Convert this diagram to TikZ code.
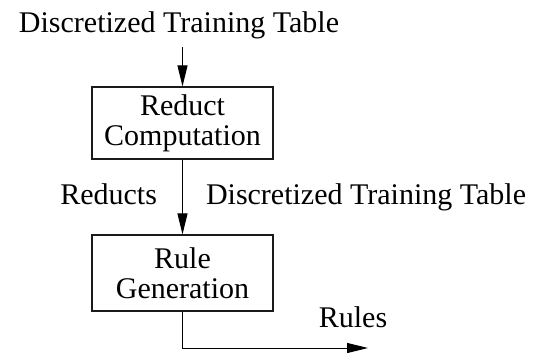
\documentclass[tikz,border=0pt]{standalone}
\usepackage{fontspec}
\setmainfont{Liberation Serif}
\usetikzlibrary{arrows.meta,positioning,calc}
\definecolor{fg}{HTML}{000000}
\definecolor{stroke}{HTML}{1A1A1A}

\begin{document}
\begin{tikzpicture}[
  x=0.5pt, y=-0.5pt,
  font=\fontsize{15}{15}\selectfont, >={Triangle[length=10.5pt,width=5pt]},
  every node/.append style={text=fg},
  proc/.style={draw=stroke, line width=0.6pt, align=center, inner sep=0pt,
    minimum width=90.5pt},
  lbl/.style={inner sep=0pt, align=center},
  side/.style={lbl, text height=0.7em, text depth=0.22em, yshift=-1.5pt},
  flow/.style={->, draw=fg, line width=0.5pt},
]
\useasboundingbox (0,0) rectangle (546,353);
% input table
\node[lbl, anchor=base, inner sep=3.5pt] (src) at (179,33) {Discretized Training Table};
% the two stages
\node[proc, minimum height=36pt] (red) at (182.5,123) {Reduct\\Computation};
\node[proc, minimum height=38pt] (gen) at (182.5,273) {Rule\\Generation};
% output end
\coordinate (out) at (368,348);
\node[lbl] (rules) at (353,317) {Rules};
% flows
\draw[flow] (src.south -| red.north) -- (red.north);
\draw[flow] (red.south) -- (gen.north)
  node[side, midway, left=12.5pt] (rdc) {Reducts}
  node[side, midway, right=11.5pt] (tbl) {Discretized Training Table};
\draw[flow] (gen.south) |- (out);
\end{tikzpicture}
\end{document}
